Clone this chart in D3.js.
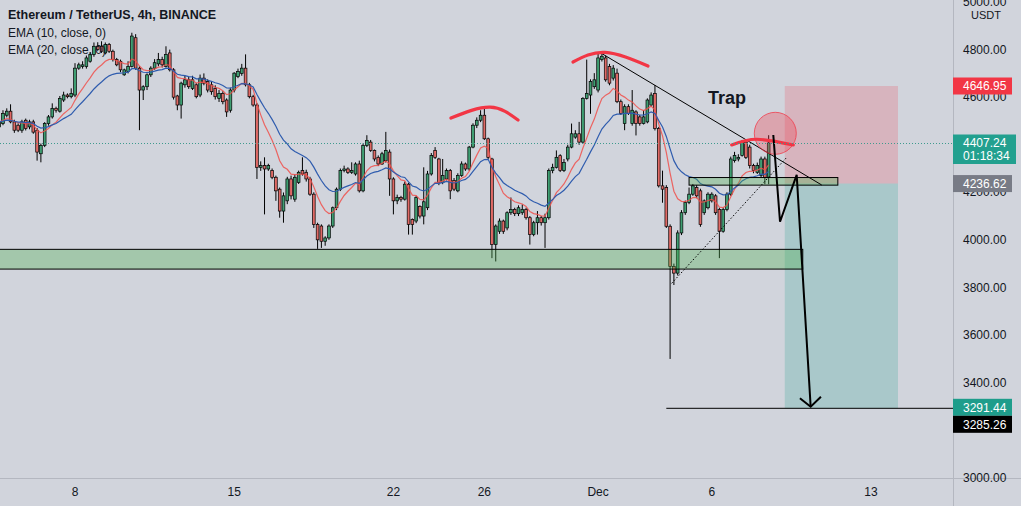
<!DOCTYPE html>
<html><head><meta charset="utf-8">
<script src="https://cdnjs.cloudflare.com/ajax/libs/d3/7.8.5/d3.min.js"></script>
<style>
html,body{margin:0;padding:0;background:#d1d4dc;overflow:hidden;}
svg{display:block;}
text{font-family:"Liberation Sans",Arial,sans-serif;}
</style></head><body>
<svg id="chart" width="1021" height="506"></svg>
<script>
// ---------------- DATA ----------------
const symbolTitle = "Ethereum / TetherUS, 4h, BINANCE";
const indicatorLabels = ["EMA (10, close, 0)", "EMA (20, close, 0)"];
const emaPeriods = [10, 20];
const firstCandle = "2021-11-04T16:00:00Z";
const candleHours = 4;

const opens = [
4475,4489,4524,4541,4496,4482,4461,4503,4475,4496,
4461,4362,4397,4489,4517,4553,4541,4588,4609,4602,
4609,4722,4729,4729,4751,4779,4814,4814,4786,4821,
4793,4758,4751,4694,4708,4729,4850,4722,4630,4644,
4694,4722,4740,4758,4729,4786,4715,4605,4567,4652,
4673,4637,4652,4609,4680,4666,4652,4637,4595,4616,
4588,4545,4630,4687,4700,4722,4652,4602,4567,4305,
4312,4298,4291,4263,4213,4121,4164,4256,4171,4241,
4291,4284,4256,4192,4065,4058,3994,4008,4058,4135,
4213,4291,4298,4284,4277,4319,4206,4397,4411,4376,
4347,4319,4333,4369,4256,4164,4178,4171,4234,4086,
4079,4140,4100,4135,4277,4376,4340,4241,4256,4291,
4249,4206,4270,4319,4298,4390,4482,4503,4524,4425,
4340,3980,4036,4079,4050,4114,4128,4110,4114,4128,
4093,4022,4072,4093,4072,4093,4291,4305,4354,4291,
4340,4390,4432,4446,4411,4595,4609,4644,4630,4758,
4765,4729,4680,4701,4581,4489,4560,4489,4538,4517,
4489,4496,4567,4616,4468,4227,4220,4057,3888,3860,
4029,4114,4157,4192,4220,4206,4114,4135,4164,4185,
4128,4036,4128,4192,4333,4340,4355,4411,4390,4312,
4284,4270,4340,4263];
const highs = [
4510,4545,4553,4570,4505,4490,4505,4510,4505,4505,
4470,4405,4495,4525,4574,4560,4605,4623,4616,4637,
4743,4745,4751,4775,4790,4830,4831,4835,4830,4828,
4800,4765,4758,4720,4751,4871,4865,4730,4650,4700,
4730,4760,4786,4770,4814,4800,4722,4610,4665,4690,
4685,4690,4660,4695,4700,4675,4665,4650,4630,4625,
4595,4640,4705,4720,4740,4780,4660,4610,4575,4330,
4347,4320,4300,4270,4220,4199,4265,4270,4275,4291,
4347,4295,4265,4200,4072,4065,4015,4065,4140,4220,
4300,4312,4305,4326,4326,4333,4405,4440,4420,4380,
4355,4370,4454,4380,4263,4190,4185,4245,4240,4090,
4185,4145,4305,4290,4365,4390,4345,4340,4300,4298,
4260,4280,4330,4325,4395,4490,4515,4545,4553,4430,
4345,4065,4090,4085,4120,4178,4135,4145,4149,4135,
4100,4080,4121,4100,4110,4300,4320,4376,4360,4340,
4400,4489,4461,4496,4600,4758,4675,4701,4786,4790,
4775,4740,4735,4720,4590,4570,4570,4630,4545,4525,
4545,4595,4620,4651,4475,4291,4230,4065,3900,4040,
4125,4165,4220,4235,4230,4215,4170,4200,4200,4192,
4135,4135,4200,4350,4370,4360,4420,4418,4400,4320,
4325,4350,4350,4440];
const lows = [
4470,4482,4515,4490,4450,4453,4450,4460,4465,4446,
4333,4326,4390,4480,4510,4535,4535,4580,4595,4595,
4600,4715,4720,4720,4745,4770,4795,4786,4780,4786,
4750,4730,4705,4690,4700,4725,4715,4461,4588,4630,
4685,4715,4730,4725,4725,4708,4590,4545,4510,4640,
4635,4630,4595,4600,4650,4620,4610,4590,4580,4570,
4517,4535,4620,4680,4690,4645,4595,4560,4256,4290,
4107,4290,4255,4164,4093,4072,4150,4170,4160,4235,
4270,4245,4185,4050,3962,3966,3975,4000,4050,4125,
4205,4284,4277,4277,4270,4199,4200,4390,4370,4330,
4310,4315,4325,4185,4107,4150,4160,4165,4022,4022,
4070,4090,4065,4125,4270,4340,4230,4234,4250,4171,
4205,4200,4265,4290,4290,4385,4470,4495,4420,4340,
3923,3909,4025,4025,4040,4105,4100,4100,4105,4085,
3980,4015,4022,4060,3966,4085,4280,4300,4285,4285,
4330,4385,4425,4400,4405,4590,4530,4635,4620,4750,
4665,4650,4670,4575,4525,4461,4525,4480,4439,4480,
4485,4490,4560,4460,4220,4156,4050,3499,3810,3850,
4020,4105,4150,4185,4175,4055,4105,4128,4157,4105,
3923,4030,4120,4185,4325,4330,4350,4340,4300,4280,
4277,4263,4234,4234];
const closes = [
4496,4531,4541,4496,4461,4461,4496,4468,4496,4453,
4369,4397,4489,4517,4553,4545,4595,4609,4602,4616,
4722,4736,4736,4765,4779,4814,4800,4793,4821,4793,
4758,4736,4715,4715,4729,4857,4722,4630,4644,4694,
4722,4745,4758,4736,4779,4715,4600,4567,4659,4673,
4644,4673,4602,4680,4659,4630,4623,4602,4616,4581,
4538,4630,4701,4708,4722,4652,4602,4567,4305,4312,
4298,4312,4263,4206,4121,4185,4256,4185,4263,4284,
4277,4256,4192,4065,4000,3994,4008,4058,4135,4213,
4291,4298,4284,4291,4319,4206,4397,4418,4376,4340,
4319,4362,4376,4256,4164,4178,4171,4234,4065,4065,
4178,4100,4160,4277,4355,4347,4241,4270,4291,4206,
4213,4270,4319,4298,4390,4482,4503,4524,4425,4347,
3980,4058,4079,4036,4114,4128,4110,4135,4128,4093,
4022,4072,4093,4072,4093,4291,4305,4347,4291,4325,
4390,4446,4446,4411,4595,4616,4666,4673,4765,4772,
4673,4659,4722,4581,4531,4560,4531,4545,4489,4489,
4517,4588,4609,4468,4227,4213,4057,3888,3860,4029,
4114,4157,4192,4227,4185,4065,4164,4192,4192,4114,
4036,4128,4192,4340,4355,4347,4411,4347,4312,4291,
4312,4340,4263,4407.24];

// visible price-scale labels (4400 and 3200 sit under the price tags)
const yTickValues = [3000,3400,3600,3800,4000,4200,4600,4800,5000];
const xTickDates = ["2021-11-08","2021-11-15","2021-11-22","2021-11-26","2021-12-01","2021-12-06","2021-12-13"];
const xTickLabels = ["8","15","22","26","Dec","6","13"];

const lastPrice = 4407.24, countdown = "01:18:34";
const stopPrice = 4646.95, entryPrice = 4236.62, targetPrice = 3291.44, linePrice = 3285.26;

// drawings (time, price)
const supportZone = {from:"2021-10-30T00:00Z", to:"2021-12-10T00:00Z", top:3960, bottom:3877};
const breakZone   = {from:"2021-12-05T00:00Z", to:"2021-12-11T13:00Z", top:4262, bottom:4230};
const rrBox       = {from:"2021-12-09T05:00Z", to:"2021-12-14T04:30Z"};
const targetLineFrom = "2021-12-04T00:00Z";
const trendDown = [["2021-12-01T02:00Z",4788],["2021-12-10T20:00Z",4230.6]];
const trendUp   = [["2021-12-04T05:40Z",3817],["2021-12-09T07:20Z",4348]];
const arcs = [
  [["2021-11-24T12:45Z",4512],["2021-11-26T06:00Z",4558],["2021-11-27T11:30Z",4504]],
  [["2021-11-29T21:30Z",4748],["2021-12-01T07:20Z",4788],["2021-12-03T04:40Z",4731]],
  [["2021-12-06T21:00Z",4399],["2021-12-07T23:20Z",4423],["2021-12-09T14:00Z",4399]]
];
const circleMark = {t:"2021-12-08T19:00Z", p:4448, r:21};
const zigzag = [["2021-12-08T16:54Z",4441],["2021-12-09T00:00Z",4076],["2021-12-09T17:35Z",4273],["2021-12-10T08:20Z",3298]];
const arrowHead = [["2021-12-09T21:00Z",3334],["2021-12-10T08:20Z",3298],["2021-12-10T19:10Z",3340]];
const trapLabel = {text:"Trap", t:"2021-12-05T20:00Z", p:4571};

// ---------------- CHART ----------------
const W = 1021, H = 506, plotR = 953, plotB = 478;
const svg = d3.select("#chart");
const P = s => new Date(s);
const t0 = P(firstCandle).getTime();
const candles = closes.map((c,i)=>({t:new Date(t0 + i*candleHours*3600e3), o:opens[i], h:highs[i], l:lows[i], c}));

const x = d3.scaleUtc().domain([P("2021-11-08T00:00Z"), P("2021-12-13T00:00Z")]).range([75, 871]);
const y = d3.scaleLinear().domain([3000, 5000]).range([477.6, 2.06]);
const step = x(new Date(t0 + candleHours*3600e3)) - x(new Date(t0));

svg.append("rect").attr("width",W).attr("height",H).attr("fill","#d1d4dc");
svg.append("clipPath").attr("id","plot").append("rect").attr("x",0).attr("y",0).attr("width",plotR).attr("height",plotB);
const g = svg.append("g").attr("clip-path","url(#plot)");

// risk / reward boxes
const rx0 = x(P(rrBox.from)), rx1 = x(P(rrBox.to));
g.append("rect").attr("x",rx0).attr("width",rx1-rx0).attr("y",y(stopPrice)).attr("height",y(entryPrice)-y(stopPrice))
  .attr("fill","rgba(242,54,69,0.2)");
g.append("rect").attr("x",rx0).attr("width",rx1-rx0).attr("y",y(entryPrice)).attr("height",y(targetPrice)-y(entryPrice))
  .attr("fill","rgba(8,153,129,0.2)");

// candles
const cg = g.append("g");
cg.selectAll("line.w").data(candles).join("line").attr("class","w")
  .attr("x1",d=>x(d.t)).attr("x2",d=>x(d.t)).attr("y1",d=>y(d.h)).attr("y2",d=>y(d.l))
  .attr("stroke","#000").attr("stroke-width",1);
const bw = step*0.72;
cg.selectAll("rect.b").data(candles).join("rect").attr("class","b")
  .attr("x",d=>x(d.t)-bw/2).attr("width",bw)
  .attr("y",d=>y(Math.max(d.o,d.c))).attr("height",d=>Math.max(1,Math.abs(y(d.o)-y(d.c))))
  .attr("fill",d=>d.c>=d.o?"#3f9e72":"#e06a66").attr("stroke","#000").attr("stroke-width",0.7);

// EMAs
function ema(vals, n){ const k=2/(n+1); const out=[]; vals.forEach((v,i)=>out.push(i? v*k+out[i-1]*(1-k) : v)); return out; }
const emaColors = ["rgba(240,80,75,0.85)","#2f5cae"];
emaPeriods.forEach((n,j)=>{
  const e = ema(closes,n);
  g.append("path").datum(candles).attr("fill","none").attr("stroke",emaColors[j]).attr("stroke-width",1.2)
   .attr("d", d3.line().x(d=>x(d.t)).y((d,i)=>y(e[i])));
});

// zones
function zone(z){
  const a=x(P(z.from)), b=x(P(z.to));
  g.append("rect").attr("x",a).attr("width",b-a).attr("y",y(z.top)).attr("height",y(z.bottom)-y(z.top))
   .attr("fill","rgba(76,175,80,0.35)").attr("stroke","#000").attr("stroke-width",1);
}
zone(supportZone); zone(breakZone);

// target line
g.append("line").attr("x1",x(P(targetLineFrom))).attr("x2",plotR).attr("y1",y(targetPrice)).attr("y2",y(targetPrice))
  .attr("stroke","#000").attr("stroke-width",1);

// trend lines
const lineTP = d3.line().x(d=>x(P(d[0]))).y(d=>y(d[1]));
g.append("path").attr("d",lineTP(trendDown)).attr("stroke","#000").attr("stroke-width",1).attr("fill","none");
g.append("path").attr("d",lineTP(trendUp)).attr("stroke","#000").attr("stroke-width",1).attr("stroke-dasharray","1.5,2").attr("fill","none");

// red arcs
const arcLine = d3.line().x(d=>x(P(d[0]))).y(d=>y(d[1])).curve(d3.curveNatural);
arcs.forEach(a=>g.append("path").attr("d",arcLine(a)).attr("fill","none").attr("stroke","#f23645")
  .attr("stroke-width",3.2).attr("stroke-linecap","round"));

// circle
g.append("circle").attr("cx",x(P(circleMark.t))).attr("cy",y(circleMark.p)).attr("r",circleMark.r)
  .attr("fill","rgba(242,54,69,0.3)").attr("stroke","rgba(242,54,69,0.75)").attr("stroke-width",1);

// zigzag projection
g.append("path").attr("d",lineTP(zigzag)).attr("fill","none").attr("stroke","#000").attr("stroke-width",2).attr("stroke-linejoin","miter");
g.append("path").attr("d",lineTP(arrowHead)).attr("fill","none").attr("stroke","#000").attr("stroke-width",2);

// Trap label
g.append("text").attr("x",x(P(trapLabel.t))).attr("y",y(trapLabel.p)).text(trapLabel.text)
  .attr("font-size",18).attr("font-weight","bold").attr("fill","#131722");

// last price dotted line
g.append("line").attr("x1",0).attr("x2",plotR).attr("y1",y(lastPrice)+0.5).attr("y2",y(lastPrice)+0.5)
  .attr("stroke","#3f9a8e").attr("stroke-width",1).attr("stroke-dasharray","1,2");

// axes borders
svg.append("line").attr("x1",plotR+0.5).attr("x2",plotR+0.5).attr("y1",0).attr("y2",H).attr("stroke","#b4b7c0");
svg.append("line").attr("x1",0).attr("x2",W).attr("y1",plotB+0.5).attr("y2",plotB+0.5).attr("stroke","#b4b7c0");

// y axis labels
const ya = svg.append("g");
yTickValues.forEach(v=>{
  ya.append("text").attr("x",963).attr("y",y(v)).attr("dy","0.35em").attr("font-size",12).attr("fill","#131722")
    .text(d3.format(".2f")(v));
});
svg.append("text").attr("x",986).attr("y",y(5000)+13).attr("dy","0.35em").attr("text-anchor","middle")
  .attr("font-size",11).attr("fill","#131722").text("USDT");

// x axis labels
xTickDates.forEach((d,i)=>{
  svg.append("text").attr("x",x(P(d+"T00:00Z"))).attr("y",492).attr("dy","0.35em").attr("text-anchor","middle")
    .attr("font-size",12).attr("fill","#131722").text(xTickLabels[i]);
});

// price labels
function priceLabel(yc, lines, fill, w){
  const h = 8.5;
  const lh = 12.5;
  const top = yc - h;
  const height = 2*h + (lines.length-1)*lh;
  svg.append("rect").attr("x",plotR).attr("y",top).attr("width",w).attr("height",height).attr("fill",fill);
  lines.forEach((s,k)=>svg.append("text").attr("x",963).attr("y",yc + k*lh).attr("dy","0.35em")
    .attr("font-size",12).attr("fill","#fff").text(s));
  return top+height;
}
priceLabel(y(stopPrice), [d3.format(".2f")(stopPrice)], "#f23645", 59);
priceLabel(y(lastPrice), [d3.format(".2f")(lastPrice), countdown], "#22a08f", 63);
priceLabel(y(entryPrice), [d3.format(".2f")(entryPrice)], "#787b86", 59);
const tb = priceLabel(y(targetPrice)-1, [d3.format(".2f")(targetPrice)], "#1e9d8b", 59);
priceLabel(tb+8.5, [d3.format(".2f")(linePrice)], "#000000", 59);

// legend
svg.append("text").attr("x",8).attr("y",19).attr("font-size",12.5).attr("font-weight","bold").attr("fill","#131722").text(symbolTitle);
indicatorLabels.forEach((s,i)=>svg.append("text").attr("x",8).attr("y",37+17*i).attr("font-size",12).attr("fill","#131722").text(s));
</script>
</body></html>
